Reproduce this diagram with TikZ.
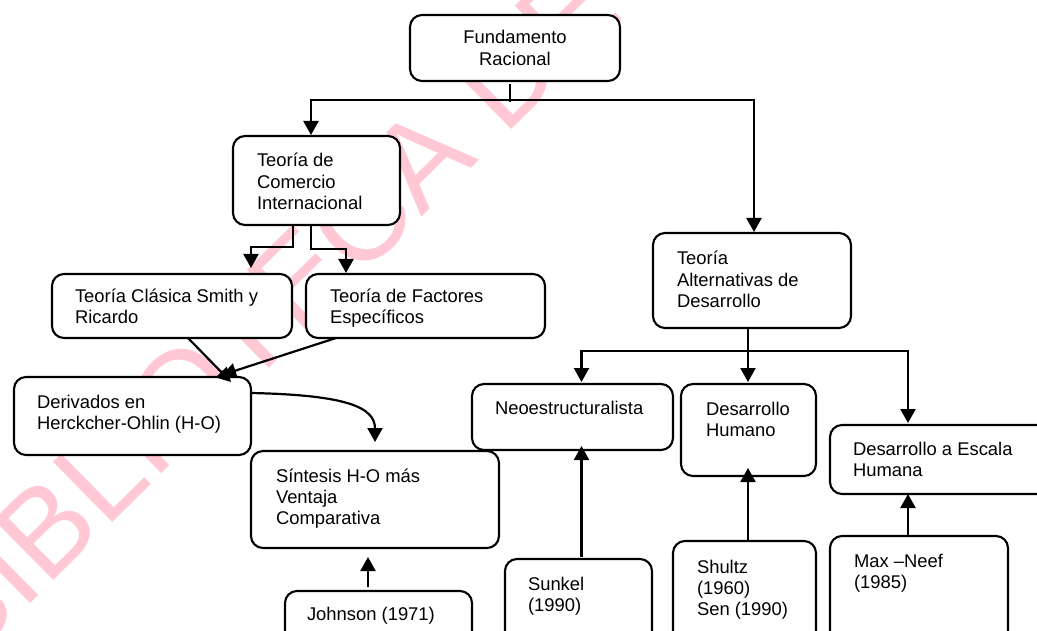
\documentclass[tikz,border=0pt]{standalone}
\usepackage{fontspec}
\setmainfont{Liberation Sans}
\usetikzlibrary{arrows.meta,calc}
\definecolor{wmpink}{RGB}{255,200,212}
\newcommand\mlines[1]{\begin{tabular}[t]{@{}l@{}}#1\end{tabular}}
\newcommand\mlinesc[1]{\begin{tabular}[t]{@{}c@{}}#1\end{tabular}}
\begin{document}
\begin{tikzpicture}[x=1pt,y=-1pt,
  box/.style={draw, line width=2.1pt, rounded corners=12pt, fill=white, inner sep=0pt, outer sep=0pt, anchor=north west},
  lbl/.style={inner sep=0pt, outer sep=0pt, anchor=base west, font=\fontsize{18.4}{21.3}\selectfont},
  conn/.style={line width=2.2pt},
  arr/.style={conn, -{Triangle[width=15pt,length=14pt]}},
  wmk/.style={inner sep=0pt, outer sep=0pt, anchor=base west, rotate=44.6, text=wmpink, font=\fontsize{123}{130}\selectfont}]
\useasboundingbox (0,0) rectangle (1037,631);
\clip (0,0) rectangle (1037,631);
\fill[white] (0,0) rectangle (1037,631);
% watermark
\node[wmk] (wm) at (-36,669) {BIBLIOTECA DE};
% boxes
\node[box, minimum width=210pt, minimum height=66pt] (fund) at (410,15) {};
\node[box, minimum width=167pt, minimum height=89pt] (comercio) at (233,136) {};
\node[box, minimum width=240pt, minimum height=64pt] (clasica) at (52,274) {};
\node[box, minimum width=239pt, minimum height=64pt] (factores) at (306,274) {};
\node[box, minimum width=237pt, minimum height=78pt] (derivados) at (14,377) {};
\node[box, minimum width=248pt, minimum height=97pt] (sintesis) at (251,451) {};
\node[box, minimum width=187pt, minimum height=70pt] (johnson) at (285,591) {};
\node[box, minimum width=198pt, minimum height=95pt] (alt) at (653,233) {};
\node[box, minimum width=201pt, minimum height=66pt] (neo) at (472,384) {};
\node[box, minimum width=135pt, minimum height=92pt] (humano) at (681,384) {};
\node[box, minimum width=260pt, minimum height=69pt] (escala) at (830,425) {};
\node[box, minimum width=147pt, minimum height=90pt] (sunkel) at (505,559) {};
\node[box, minimum width=143pt, minimum height=110pt] (shultz) at (673,541) {};
\node[box, minimum width=178pt, minimum height=110pt] (maxneef) at (830,536) {};
% texts
\node[lbl, anchor=base] (fundT) at (515,44) {\mlinesc{Fundamento\\Racional}};
\node[lbl] (comT) at (257,167) {\mlines{Teoría de\\Comercio\\Internacional}};
\node[lbl] (claT) at (75,302) {\mlines{Teoría Clásica Smith y\\Ricardo}};
\node[lbl] (facT) at (330,302) {\mlines{Teoría de Factores\\Específicos}};
\node[lbl] (derT) at (37,408) {\mlines{Derivados en\\Herckcher-Ohlin (H-O)}};
\node[lbl] (sinT) at (276,482) {\mlines{Síntesis H-O más\\Ventaja\\Comparativa}};
\node[lbl] (johT) at (307,620) {Johnson (1971)};
\node[lbl] (altT) at (677,265) {\mlines{Teoría\\Alternativas de\\Desarrollo}};
\node[lbl] (neoT) at (495,414) {Neoestructuralista};
\node[lbl] (humT) at (706,415) {\mlines{Desarrollo\\Humano}};
\node[lbl] (escT) at (853,455) {\mlines{Desarrollo a Escala\\Humana}};
\node[lbl] (sunT) at (528,590) {\mlines{Sunkel\\(1990)}};
\node[lbl] (shuT) at (697,573) {\mlines{Shultz\\(1960)\\Sen (1990)}};
\node[lbl] (maxT) at (854,567) {\mlines{Max –Neef\\(1985)}};
% junctions
\coordinate (j0) at (510,100);
\coordinate (j1) at (748,351);
% connectors from Fundamento
\draw[conn] ($(fund.south)+(-5,3)$) -- ($(j0)+(0,2)$);
\draw[arr] (j0) -| ($(comercio.north)+(-5.5,-1)$);
\draw[arr] (j0) -| ($(alt.north)+(2,-1)$);
% from Comercio
\draw[arr] ($(comercio.south)+(-23.5,0)$) -- ++(0,22) -| ($(clasica.north)+(79,-6)$);
\draw[arr] ($(comercio.south)+(-5.5,0)$) -- ++(0,24) -| ($(factores.north)+(-79.5,-1)$);
% into Derivados
\draw[arr] ($(clasica.south)+(16,0)$) -- ($(derivados.north)+(98.5,5)$);
\draw[arr] ($(factores.south)+(-89.5,0)$) -- ($(derivados.north)+(89.5,-2)$);
% Derivados -> Sintesis
\draw[arr] ($(derivados.east)+(0,-23)$) .. controls ($(derivados.east)+(95,-21)$) and ($(sintesis.north)+(0,-44)$) .. ($(sintesis.north)+(0,-9)$);
% Johnson -> Sintesis
\draw[arr] ($(johnson.north)+(-10.5,-4)$) -- ($(sintesis.south)+(-7,9)$);
% from Alternativas
\draw[arr] ($(alt.south)+(-4,0)$) -- ($(humano.north)+(-0.5,-2)$);
\draw[arr] (j1) -| ($(neo.north)+(9,-2)$);
\draw[arr] (j1) -| ($(escala.north)+(-52,-2)$);
% authors up
\draw[arr] ($(sunkel.north)+(3,-2)$) -- ($(neo.south)+(9,-4)$);
\draw[arr] ($(shultz.north)+(3.5,0)$) -- ($(humano.south)+(-0.5,-8)$);
\draw[arr] ($(maxneef.north)+(-11,0)$) -- ($(escala.south)+(-52,0)$);
\end{tikzpicture}
\end{document}
